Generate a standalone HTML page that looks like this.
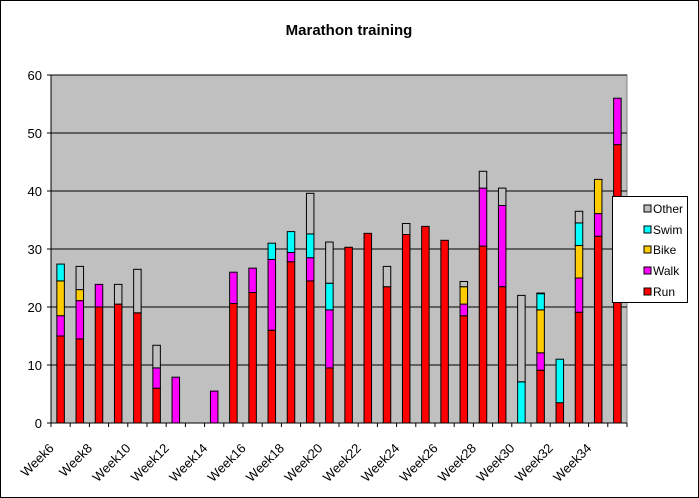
<!DOCTYPE html>
<html><head><meta charset="utf-8"><style>
html,body{margin:0;padding:0;background:#fff;}
svg{display:block;font-family:"Liberation Sans",Arial,sans-serif;}
</style></head><body>
<svg id="c" width="699" height="498" xmlns="http://www.w3.org/2000/svg">
<rect x="0.5" y="0.5" width="698" height="497" fill="#fff" stroke="#000"/>
<text x="349" y="35" font-size="15" font-weight="bold" text-anchor="middle">Marathon training</text>
<rect x="51" y="75" width="576" height="348" fill="#c0c0c0" stroke="#808080"/>
<g id="grid"></g>
<g id="bars"></g>
<g id="axes"></g>
<rect x="612.5" y="196.5" width="75" height="106" fill="#fff" stroke="#000"/>
<g font-size="12">
<rect x="644" y="205" width="7" height="7" fill="#c0c0c0" stroke="#000"/><text x="653" y="213">Other</text>
<rect x="644" y="226" width="7" height="7" fill="#00ffff" stroke="#000"/><text x="653" y="234">Swim</text>
<rect x="644" y="246" width="7" height="7" fill="#ffcc00" stroke="#000"/><text x="653" y="254">Bike</text>
<rect x="644" y="267" width="7" height="7" fill="#ff00ff" stroke="#000"/><text x="653" y="275">Walk</text>
<rect x="644" y="288" width="7" height="7" fill="#ff0000" stroke="#000"/><text x="653" y="296">Run</text>
</g>
</svg>
<script>
var NS="http://www.w3.org/2000/svg";
function el(p,t,a,txt){var e=document.createElementNS(NS,t);for(var k in a)e.setAttribute(k,a[k]);if(txt!==undefined)e.textContent=txt;document.getElementById(p).appendChild(e);return e;}
function Y(v){return 423-v*5.8;}
for(var g=10;g<=60;g+=10){el("grid","line",{x1:51,x2:627,y1:Y(g),y2:Y(g),stroke:"#000","stroke-width":1});}
for(var g=0;g<=60;g+=10){el("axes","line",{x1:47,x2:51,y1:Y(g),y2:Y(g),stroke:"#000"});el("axes","text",{x:42,y:Y(g)+5,"font-size":13,"text-anchor":"end"},String(g));}
el("axes","line",{x1:51,x2:51,y1:75,y2:423,stroke:"#000"});
el("axes","line",{x1:51,x2:627,y1:423,y2:423,stroke:"#000"});
var D=[
[15,18.5,24.5,27.4,27.4],[14.5,21.1,23,23,27],[20,23.9,23.9,23.9,23.9],[20.5,20.5,20.5,20.5,23.9],[19,19,19,19,26.5],
[6,9.5,9.5,9.5,13.4],[0,7.9,7.9,7.9,7.9],[0,0,0,0,0],[0,5.5,5.5,5.5,5.5],[20.6,26,26,26,26],
[22.5,26.7,26.7,26.7,26.7],[16,28.2,28.2,31,31],[27.8,29.4,29.4,33,33],[24.5,28.5,28.5,32.6,39.6],[9.5,19.5,19.5,24.1,31.2],
[30.3,30.3,30.3,30.3,30.3],[32.7,32.7,32.7,32.7,32.7],[23.5,23.5,23.5,23.5,27],[32.5,32.5,32.5,32.5,34.4],[33.9,33.9,33.9,33.9,33.9],
[31.5,31.5,31.5,31.5,31.5],[18.5,20.5,23.5,23.5,24.4],[30.5,40.5,40.5,40.5,43.4],[23.5,37.5,37.5,37.5,40.5],[0,0,0,7.1,22],
[9.1,12.1,19.5,22.3,22.4],[3.5,3.5,3.5,11,11],[19.1,25,30.6,34.5,36.5],[32.2,36.1,42,42,42],[48,56,56,56,56]];
var C=["#ff0000","#ff00ff","#ffcc00","#00ffff","#c0c0c0"];
for(var i=0;i<30;i++){
 var cx=51+19.2*(i+0.5), x=cx-3.75, prev=0;
 for(var s=0;s<5;s++){var v=D[i][s];if(v>prev){el("bars","rect",{x:x,y:Y(v),width:7.5,height:Y(prev)-Y(v),fill:C[s],stroke:"#000","stroke-width":1});}prev=Math.max(prev,v);}
 var tx=51+19.2*i;el("axes","line",{x1:tx,x2:tx,y1:423,y2:427,stroke:"#000"});
 if(i%2==0){var ax=cx-6,ay=449;el("axes","text",{x:ax,y:ay,"font-size":13,"text-anchor":"end",transform:"rotate(-45 "+ax+" "+ay+")"},"Week"+(6+i));}
}
el("axes","line",{x1:627,x2:627,y1:423,y2:427,stroke:"#000"});
</script>
</body></html>
